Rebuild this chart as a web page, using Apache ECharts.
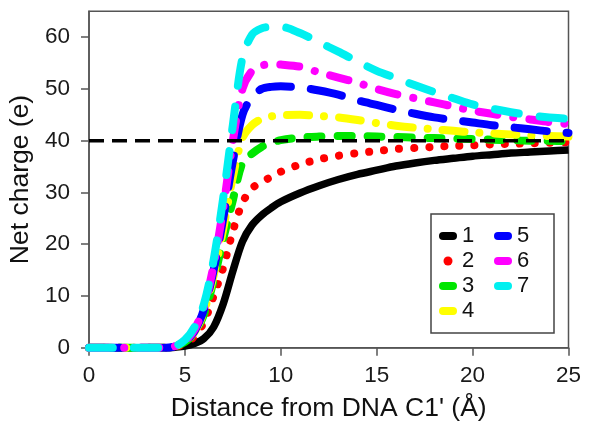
<!DOCTYPE html>
<html>
<head>
<meta charset="utf-8">
<script src="https://cdn.jsdelivr.net/npm/echarts@6/dist/echarts.min.js"></script>
<style>html,body{margin:0;padding:0;background:#fff;}#c{width:600px;height:441px;}</style>
</head>
<body>
<div id="c"></div>
<script>
// ---- data ----
const xs = [0,1,2,3,4,4.5,5,5.5,6,6.5,7,7.5,8,8.5,9,9.5,10,11,12,13,14,15,16,17,18,19,20,21,22,23,24,25];
const s1 = [0,0,0,0,0,0.1,0.3,0.8,1.8,4,8.5,14.8,20.5,23.7,25.6,27,28.2,29.9,31.3,32.5,33.5,34.3,35.1,35.7,36.2,36.6,37,37.3,37.6,37.8,38,38.2];
const s2 = [0,0,0,0,0,0.2,0.8,2.2,5,10,15.5,22.5,28,30.8,32,33,34,35.4,36.4,37.1,37.6,38,38.4,38.6,38.8,39,39.1,39.3,39.4,39.5,39.6,39.7];
const s3 = [0,0,0,0,0,0.3,1.1,2.8,6.5,13,21,28.5,35.7,37.5,38.8,39.6,40.1,40.6,40.8,40.9,40.9,40.8,40.7,40.6,40.5,40.4,40.3,40.2,40.1,40,40,39.9];
const s4 = [0,0,0,0,0,0.3,1.2,3,7,14,23,33,40.5,43,44.2,44.7,44.9,45,44.8,44.5,44,43.4,42.9,42.5,42.2,41.9,41.6,41.4,41.2,41,40.9,40.8];
const s5 = [0,0,0,0,0,0.3,1.2,3.2,7.5,15,25,36,45,48.5,50,50.4,50.5,50.3,49.7,48.9,47.8,46.9,46,45.2,44.5,44,43.5,43,42.6,42.2,41.8,41.5];
const s6 = [0,0,0,0,0,0.3,1.3,3.5,8,16,27,40,50,53.5,54.5,54.8,54.7,54.3,53.2,52.2,51.2,50,49,48.2,47.4,46.6,45.8,45.2,44.6,44.1,43.6,43.2];
const s7 = [0,0,0,0,0,0.3,1.5,4,8.5,17,29,43,56,60.5,61.7,62,62,60.8,59,57.2,55.3,53.5,52.1,50.7,49.4,48.2,47,46.2,45.5,44.9,44.5,44.2];
const refX = [0, 25];
const refY = [40, 40];
const seriesNames = ['1','2','3','4','5','6','7'];
const xTicks = [0,5,10,15,20,25];
const yTicks = [0,10,20,30,40,50,60];
const xTitle = "Distance from DNA C1' (\u00C5)";
const yTitle = 'Net charge (e)';

// ---- styles ----
const allY = [s1,s2,s3,s4,s5,s6,s7];
const colors = ['#000000','#ff0000','#00e600','#ffff00','#0000ff','#ff00ff','#00f0f0'];
const widths = [7.5,8,8,8,8,8,8];
const dashes = ['solid',[0.1,15],[14,16],[22,15,0.1,15],[32,20],[19,16,0.1,16],[24,21]];
const FONT = 'Liberation Sans, Arial, sans-serif';
const pill = 'path://M4 0H14A4 4 0 0 1 14 8H4A4 4 0 0 1 4 0Z';

const pairs = (ys) => xs.map((x, i) => [x, ys[i]]);

const series = allY.map((ys, i) => ({
  name: seriesNames[i],
  type: 'line',
  data: pairs(ys),
  smooth: 0.3,
  showSymbol: false,
  symbol: 'none',
  clip: false,
  lineStyle: {color: colors[i], width: widths[i], type: dashes[i], cap: i === 0 ? 'butt' : 'round', join: 'round'},
  itemStyle: {color: colors[i]},
  emphasis: {disabled: true},
  silent: true
}));
series.push({
  name: 'ref',
  type: 'line',
  data: refX.map((x, i) => [x, refY[i]]),
  showSymbol: false,
  symbol: 'none',
  lineStyle: {color: '#000', width: 3.5, type: [15, 8]},
  emphasis: {disabled: true},
  silent: true
});

const chart = echarts.init(document.getElementById('c'), null, {renderer: 'canvas'});
chart.setOption({
  backgroundColor: '#ffffff',
  animation: false,
  grid: {left: 89, right: 31.5, top: 11.3, bottom: 93.3, show: true, borderColor: '#555', borderWidth: 1.5, outerBoundsMode: 'none'},
  legend: {
    orient: 'vertical',
    left: 431, top: 214,
    height: 110,
    padding: [11, 8, 11, 8],
    itemGap: 3,
    itemWidth: 18, itemHeight: 9,
    borderColor: '#444', borderWidth: 1.5,
    backgroundColor: '#fff',
    selectedMode: false,
    textStyle: {fontFamily: FONT, fontSize: 22, color: '#111', lineHeight: 22, width: 29},
    itemStyle: {borderWidth: 0},
    data: seriesNames.map((n, i) => ({name: n, icon: i === 1 ? 'circle' : pill}))
  },
  xAxis: {
    type: 'value', min: xTicks[0], max: xTicks[xTicks.length-1], interval: 5,
    name: xTitle, nameLocation: 'middle', nameGap: 47,
    nameTextStyle: {fontFamily: FONT, fontSize: 26.5, color: '#111'},
    axisLine: {show: true, onZero: false, lineStyle: {color: '#555', width: 1.5}},
    axisTick: {show: true, inside: false, length: 8, lineStyle: {color: '#555', width: 1.5}},
    axisLabel: {fontFamily: FONT, fontSize: 22.5, color: '#1a1a1a', margin: 17},
    splitLine: {show: false}
  },
  yAxis: {
    type: 'value', min: 0, max: 65,
    name: yTitle, nameLocation: 'middle', nameGap: 47, nameRotate: 90,
    nameTextStyle: {fontFamily: FONT, fontSize: 26.5, color: '#111'},
    axisLine: {show: true, onZero: false, lineStyle: {color: '#555', width: 1.5}},
    axisTick: {show: true, length: 8, lineStyle: {color: '#555', width: 1.5}, customValues: yTicks},
    axisLabel: {fontFamily: FONT, fontSize: 22.5, color: '#1a1a1a', margin: 19, customValues: yTicks},
    splitLine: {show: false}
  },
  series: series
});
</script>
</body>
</html>
